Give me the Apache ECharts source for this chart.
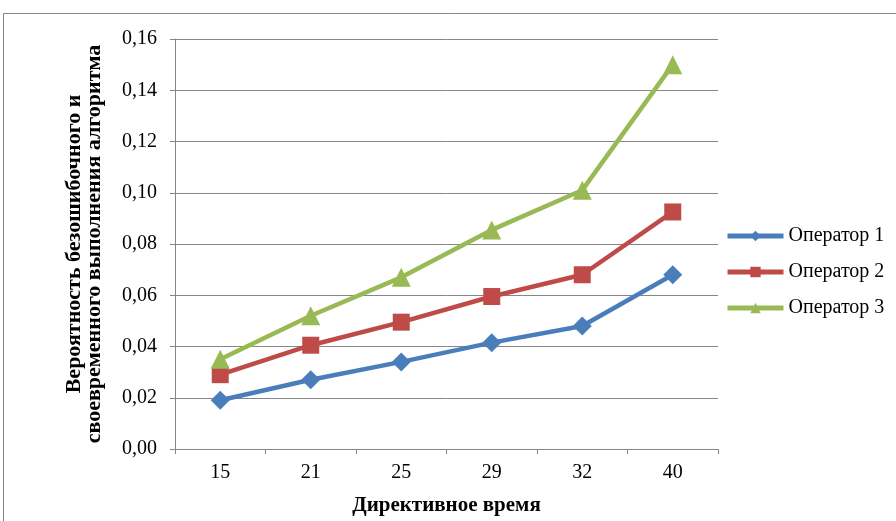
<!DOCTYPE html>
<html>
<head>
<meta charset="utf-8">
<script src="https://cdn.jsdelivr.net/npm/echarts@6/dist/echarts.min.js"></script>
<style>
html,body{margin:0;padding:0;background:#fff;}
#chart{width:896px;height:521px;}
</style>
</head>
<body>
<div id="chart"></div>
<script>
var categories=['15','21','25','29','32','40'];
var operator1=[0.019,0.027,0.034,0.0415,0.048,0.068];
var operator2=[0.029,0.0405,0.0495,0.0595,0.068,0.0925];
var operator3=[0.035,0.052,0.067,0.0855,0.101,0.15];
var seriesNames=['Оператор 1','Оператор 2','Оператор 3'];

var chart=echarts.init(document.getElementById('chart'));
var font='"Liberation Serif", "Times New Roman", serif';
var gray='#868686';

function makeSeries(name,data,color,symbol,size){
    return {
        name:name,
        type:'line',
        data:data,
        symbol:symbol,
        symbolSize:size,
        lineStyle:{width:4.5,color:color},
        itemStyle:{color:color},
        emphasis:{disabled:true}
    };
}

var option={
    animation:false,
    textStyle:{fontFamily:font},
    graphic:[{
        type:'rect',
        shape:{x:3.5,y:13.5,width:1000,height:1000},
        style:{fill:'none',stroke:gray,lineWidth:1}
    }],
    grid:{left:175,right:178,top:39,bottom:72},
    legend:{
        orient:'vertical',
        left:720,
        top:221,
        itemWidth:56,
        itemHeight:13,
        itemGap:16,
        lineStyle:{width:5},
        textStyle:{fontFamily:font,fontSize:20,color:'#000'},
        data:seriesNames
    },
    xAxis:{
        type:'category',
        data:categories,
        boundaryGap:true,
        name:'Директивное время',
        nameLocation:'middle',
        nameGap:46,
        nameTextStyle:{fontFamily:font,fontSize:21,fontWeight:'bold',color:'#000'},
        axisLine:{lineStyle:{color:gray,width:1}},
        axisTick:{show:true,length:5,alignWithLabel:false,lineStyle:{color:gray}},
        axisLabel:{fontFamily:font,fontSize:20,color:'#000',margin:14}
    },
    yAxis:{
        type:'value',
        min:0,
        max:0.16,
        interval:0.02,
        name:'Вероятность безошибочного и\nсвоевременного выполнения алгоритма',
        nameLocation:'middle',
        nameGap:71,
        nameTextStyle:{fontFamily:font,fontSize:22,fontWeight:'bold',color:'#000',lineHeight:20},
        axisLine:{show:true,lineStyle:{color:gray,width:1}},
        axisTick:{show:true,length:5,lineStyle:{color:gray}},
        splitLine:{show:true,lineStyle:{color:gray,width:1}},
        axisLabel:{
            fontFamily:font,fontSize:20,color:'#000',margin:18,
            formatter:function(v){return v.toFixed(2).replace('.',',');}
        }
    },
    series:[
        makeSeries(seriesNames[0],operator1,'#4a7ebb','diamond',19),
        makeSeries(seriesNames[1],operator2,'#be4b48','rect',17),
        makeSeries(seriesNames[2],operator3,'#98b954','triangle',19)
    ]
};

chart.setOption(option);
</script>
</body>
</html>
